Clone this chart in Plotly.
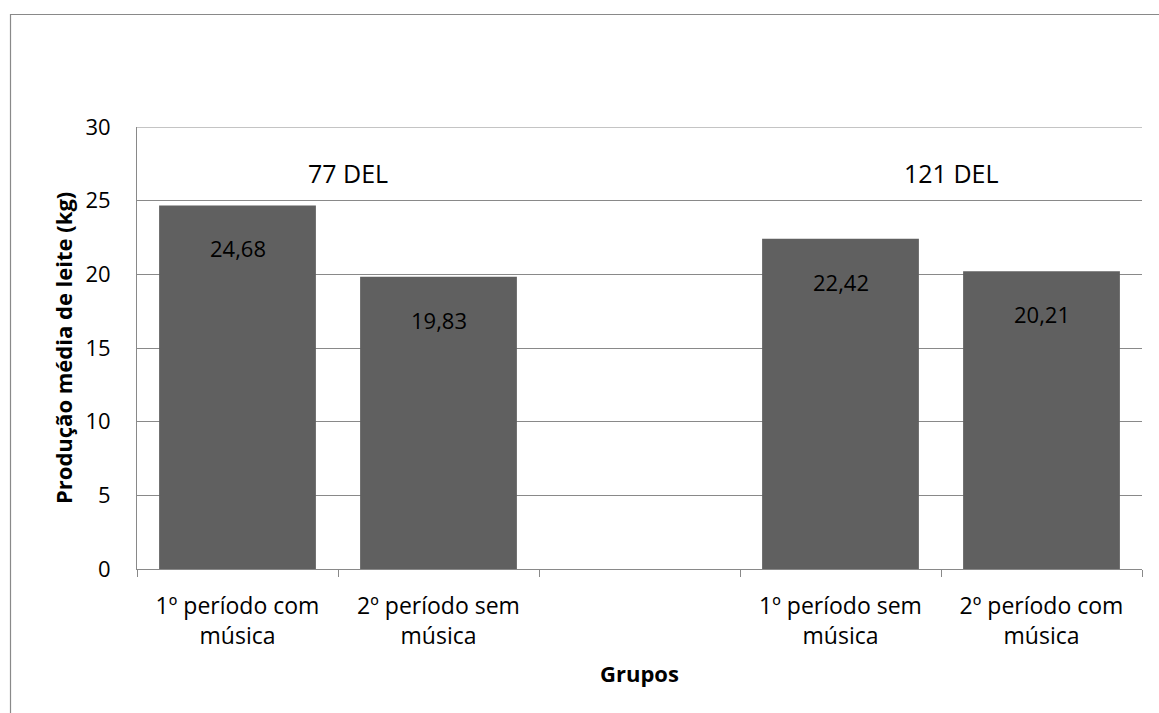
import plotly.graph_objects as go

categories = ["1º período com<br>música", "2º período sem<br>música", " ",
              "1º período sem<br>música", "2º período com<br>música"]
values = [24.68, 19.83, None, 22.42, 20.21]
value_labels = ["24,68", "19,83", "", "22,42", "20,21"]
group_labels = ["77 DEL", "121 DEL"]
group_x = [0.55, 3.55]
group_y = [26.9, 26.9]
y_ticks = [0, 5, 10, 15, 20, 25, 30]

FONT = "Open Sans"
GRID = "#898989"
FS = 22

W, H = 1159, 713
L, T, R, B = 137, 127, 1142, 569

fig = go.Figure()
fig.add_trace(go.Bar(x=categories, y=values, marker=dict(color="#606060", line=dict(width=0)),
                     hoverinfo="skip"))

for c, v, t in zip(categories, values, value_labels):
    if v is None:
        continue
    fig.add_annotation(x=c, y=v, text=t, showarrow=False, yanchor="middle", yshift=-43,
                       font=dict(family=FONT, size=FS, color="black"))

for t, gx, gy in zip(group_labels, group_x, group_y):
    fig.add_annotation(x=gx, y=gy, text=t, showarrow=False, xanchor="center", yanchor="middle",
                       font=dict(family=FONT, size=FS + 3, color="black"))

pw, ph = R - L, B - T
fig.add_annotation(xref="paper", yref="paper", x=(63 - L) / pw, y=0.5, text="<b>Produção média de leite (kg)</b>",
                   textangle=-90, showarrow=False, xanchor="center", yanchor="middle",
                   font=dict(family=FONT, size=FS, color="black"))
fig.add_annotation(xref="paper", yref="paper", x=0.5, y=(B - 673) / ph, text="<b>Grupos</b>",
                   showarrow=False, xanchor="center", yanchor="middle",
                   font=dict(family=FONT, size=FS, color="black"))

fig.add_shape(type="rect", xref="paper", yref="paper",
              x0=(10.5 - L) / pw, x1=(W + 20 - L) / pw,
              y0=(B - (H + 20)) / ph, y1=(B - 14.5) / ph,
              line=dict(color=GRID, width=1.2), layer="below")
fig.add_shape(type="line", xref="paper", yref="y", x0=0, x1=1, y0=y_ticks[-1], y1=y_ticks[-1],
              line=dict(color=GRID, width=1), layer="below")

fig.update_layout(
    width=W, height=H,
    margin=dict(l=L, r=W - R, t=T, b=H - B),
    paper_bgcolor="white", plot_bgcolor="white",
    showlegend=False, bargap=0.22,
    font=dict(family=FONT, size=FS, color="black"),
    xaxis=dict(type="category", categoryorder="array", categoryarray=categories,
               showline=True, linecolor=GRID, linewidth=1,
               ticks="outside", tickson="boundaries", ticklen=7, tickcolor=GRID,
               ticklabelstandoff=16,
               showgrid=False, tickfont=dict(family=FONT, size=FS + 1, color="black")),
    yaxis=dict(range=[0, 30], tickvals=y_ticks, showline=True, linecolor=GRID, linewidth=1,
               showgrid=True, gridcolor=GRID, gridwidth=1, zeroline=False,
               ticks="", ticklabelstandoff=21, tickfont=dict(family=FONT, size=FS, color="black")),
)

fig.write_html("out.html")
